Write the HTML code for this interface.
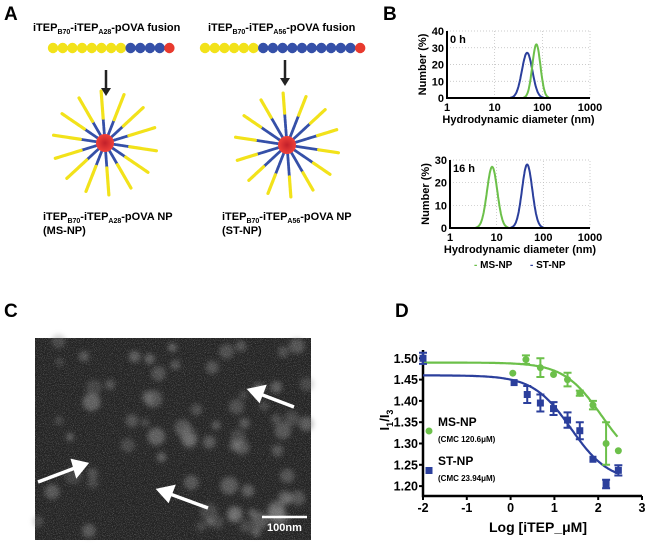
<!DOCTYPE html>
<html><head><meta charset="utf-8"><style>
body{margin:0;background:#fff;width:648px;height:544px;overflow:hidden;font-family:"Liberation Sans",Arial,sans-serif}
svg text{font-family:"Liberation Sans",Arial,sans-serif;font-weight:bold}
</style></head><body>
<svg id="fig" width="648" height="544" viewBox="0 0 648 544" xmlns="http://www.w3.org/2000/svg">
<defs>
<filter id="noise" x="0" y="0" width="100%" height="100%" color-interpolation-filters="sRGB"><feTurbulence type="fractalNoise" baseFrequency="1.1" numOctaves="2" seed="3"/><feColorMatrix type="matrix" values="0 0 0 0 0.75 0 0 0 0 0.75 0 0 0 0 0.75 0 0 0 2.6 -1.2"/></filter>
<filter id="blur"><feGaussianBlur stdDeviation="2.5"/></filter>
<radialGradient id="core"><stop offset="0" stop-color="#c2202a"/><stop offset="1" stop-color="#f0413a"/></radialGradient>
</defs>
<text x="4" y="20" font-size="19">A</text>
<text x="383" y="20" font-size="19">B</text>
<text x="4" y="317" font-size="19">C</text>
<text x="395" y="317" font-size="19">D</text>

<g id="panelA">
<text x="33" y="31" font-size="11">iTEP<tspan font-size="7" dy="3">B70</tspan><tspan dy="-3">-iTEP</tspan><tspan font-size="7" dy="3">A28</tspan><tspan dy="-3">-pOVA fusion</tspan></text>
<text x="208" y="31" font-size="11">iTEP<tspan font-size="7" dy="3">B70</tspan><tspan dy="-3">-iTEP</tspan><tspan font-size="7" dy="3">A56</tspan><tspan dy="-3">-pOVA fusion</tspan></text>
<g id="beads"></g>
<g id="stars"></g>
<line x1="106" y1="70" x2="106" y2="90" stroke="#222" stroke-width="2.5"/><path d="M101,88 L111,88 L106,96 Z" fill="#222"/>
<line x1="285" y1="60" x2="285" y2="80" stroke="#222" stroke-width="2.5"/><path d="M280,78 L290,78 L285,86 Z" fill="#222"/>
<text x="43" y="220" font-size="11">iTEP<tspan font-size="7" dy="3">B70</tspan><tspan dy="-3">-iTEP</tspan><tspan font-size="7" dy="3">A28</tspan><tspan dy="-3">-pOVA NP</tspan></text>
<text x="43" y="234" font-size="11">(MS-NP)</text>
<text x="222" y="220" font-size="11">iTEP<tspan font-size="7" dy="3">B70</tspan><tspan dy="-3">-iTEP</tspan><tspan font-size="7" dy="3">A56</tspan><tspan dy="-3">-pOVA NP</tspan></text>
<text x="222" y="234" font-size="11">(ST-NP)</text>
</g>

<g>
<rect x="35" y="338" width="276" height="202" fill="#222"/>
<g id="blobs" filter="url(#blur)"></g>
<rect x="35" y="338" width="276" height="202" filter="url(#noise)" opacity="0.4"/>
<g fill="#fff" stroke="#fff" stroke-width="3.5">
<line x1="294" y1="407" x2="260" y2="394"/><path d="M250,390 L264,387 L259,400 Z"/>
<line x1="38" y1="482" x2="75" y2="468"/><path d="M86,464 L73,461 L77,475 Z"/>
<line x1="208" y1="508" x2="170" y2="494"/><path d="M159,490 L173,487 L168,500 Z"/>
</g>
<line x1="262" y1="517" x2="307" y2="517" stroke="#fff" stroke-width="2.5"/>
<text x="267" y="531" font-size="11" fill="#fff">100nm</text>
</g>

<g id="panelB"></g>
<g id="panelD"></g>
</svg>
<script>
// ---------- Panel B data ----------
const bDecades = [1, 10, 100, 1000];
const bTopYTicks = [0, 10, 20, 30, 40];
const bBotYTicks = [0, 10, 20, 30];
const b0hST = {peak: 48, height: 27, sigma: 0.11};
const b0hMS = {peak: 75, height: 32, sigma: 0.085};
const b16hMS = {peak: 8, height: 27, sigma: 0.11};
const b16hST = {peak: 45, height: 28, sigma: 0.11};
// ---------- Panel D data ----------
const dXTicks = [-2, -1, 0, 1, 2, 3];
const dYTicks = [1.20, 1.25, 1.30, 1.35, 1.40, 1.45, 1.50];
const msX = [0.05, 0.35, 0.68, 0.98, 1.30, 1.58, 1.88, 2.18, 2.46];
const msY = [1.465, 1.497, 1.478, 1.462, 1.450, 1.418, 1.390, 1.300, 1.283];
const msErr = [0, 0.010, 0.022, 0, 0.016, 0.006, 0.010, 0.050, 0];
const stX = [-2, 0.08, 0.38, 0.68, 0.98, 1.30, 1.58, 1.88, 2.18, 2.46];
const stY = [1.500, 1.443, 1.415, 1.395, 1.382, 1.355, 1.330, 1.263, 1.205, 1.237];
const stErr = [0.013, 0, 0.020, 0.020, 0.015, 0.018, 0.020, 0, 0.010, 0.012];
const msFit = {top: 1.49, bottom: 1.24, logEC50: 2.08, hill: 1};
const stFit = {top: 1.46, bottom: 1.21, logEC50: 1.38, hill: 1};

const NS = "http://www.w3.org/2000/svg";
function mk(parent, tag, attrs, text) {
  const e = document.createElementNS(NS, tag);
  for (const k in attrs) e.setAttribute(k, attrs[k]);
  if (text !== undefined) e.textContent = text;
  parent.appendChild(e);
  return e;
}
const GREEN = "#6cc04a", BLUE = "#2b3f9c";

const beads = document.getElementById('beads');
function beadRow(x0, nY, nB, y) {
  const cols = [];
  for (let i = 0; i < nY; i++) cols.push('#f2e21a');
  for (let i = 0; i < nB; i++) cols.push('#3550a8');
  cols.push('#e83a2e');
  cols.forEach((c, i) => {
    const b = mk(beads, 'circle', {cx: x0 + i * 9.7, cy: y, r: 5.2, fill: c});
    
    
  });
}
beadRow(53, 8, 4, 48);
beadRow(205, 6, 10, 48);
const stars = document.getElementById('stars');
function star(cx, cy, blueLen) {
  const g = mk(stars, 'g', {});
  
  
  for (let i = 0; i < 14; i++) {
    const a = i / 14 * Math.PI * 2 + 0.15;
    const c = Math.cos(a), s = Math.sin(a);
    mk(g, 'line', {x1: cx + c * 7, y1: cy + s * 7, x2: cx + c * blueLen, y2: cy + s * blueLen, stroke: '#3550a8', 'stroke-width': 2.8, 'stroke-linecap': 'round', 'stroke-dasharray': '4 1'});
    mk(g, 'line', {x1: cx + c * blueLen, y1: cy + s * blueLen, x2: cx + c * 52, y2: cy + s * 52, stroke: '#f2e21a', 'stroke-width': 3.2, 'stroke-linecap': 'round', 'stroke-dasharray': '5 1'});
  }
  mk(g, 'circle', {cx: cx, cy: cy, r: 9, fill: 'url(#core)'});
}
star(105, 143, 25);
star(287, 145, 32);

const blobs = document.getElementById('blobs');
let seed = 7;
function rnd() { seed = (seed * 16807) % 2147483647; return seed / 2147483647; }
for (let i = 0; i < 75; i++) {
  const b = mk(blobs, 'circle', {cx: 38 + rnd() * 270, cy: 341 + rnd() * 196, r: 4 + rnd() * 5, fill: '#8a8a8a', opacity: 0.25 + rnd() * 0.3});
  
  
}

const pb = document.getElementById('panelB');
function dls(opts, seriesList, yTicks, label) {
  const {x0, x1, y0, yTop, ymax} = opts;
  const g = mk(pb, 'g', {});
  
  
  const sx = v => x0 + Math.log10(v) / 3 * (x1 - x0);
  const sy = v => y0 - v / ymax * (y0 - yTop);
  yTicks.forEach(t => {
    if (t > 0) mk(g, 'line', {x1: x0, x2: x1, y1: sy(t), y2: sy(t), stroke: '#bbb', 'stroke-width': 0.7, 'stroke-dasharray': '1 2'});
    const tl = mk(g, 'text', {x: x0 - 3, y: sy(t) + 4, 'font-size': 11, 'text-anchor': 'end'}, t);
    
    
  });
  bDecades.forEach(d => {
    if (d > 1) mk(g, 'line', {x1: sx(d), x2: sx(d), y1: y0, y2: yTop, stroke: '#bbb', 'stroke-width': 0.7, 'stroke-dasharray': '1 2'});
    const tl = mk(g, 'text', {x: sx(d), y: y0 + 13, 'font-size': 11, 'text-anchor': 'middle'}, d);
    
    
  });
  seriesList.forEach(([s, col, nm]) => {
    let d = '';
    for (let lx = Math.log10(s.peak) - 3.2 * s.sigma; lx <= Math.log10(s.peak) + 3.2 * s.sigma; lx += 0.01) {
      const v = s.height * Math.exp(-Math.pow(lx - Math.log10(s.peak), 2) / (2 * s.sigma * s.sigma));
      d += (d ? 'L' : 'M') + sx(Math.pow(10, lx)).toFixed(1) + ',' + sy(v).toFixed(1);
    }
    const p = mk(g, 'path', {d: d, fill: 'none', stroke: col, 'stroke-width': 2});
    
    
  });
  mk(g, 'path', {d: `M${x0},${yTop}V${y0}H${x1}`, fill: 'none', stroke: '#000', 'stroke-width': 2});
  const lt = mk(g, 'text', {x: x0 + 3, y: yTop + 12, 'font-size': 11}, label);
  
  
  const xt = mk(g, 'text', {x: (x0 + x1) / 2, y: y0 + 25, 'font-size': 11, 'text-anchor': 'middle'}, 'Hydrodynamic diameter (nm)');
  
  
  const yt = mk(g, 'text', {x: 0, y: 0, 'font-size': 11, 'text-anchor': 'middle', transform: `translate(${x0 - 21},${(y0 + yTop) / 2}) rotate(-90)`}, 'Number (%)');
  
  
}
dls({x0: 447, x1: 590, y0: 98, yTop: 31, ymax: 40}, [[b0hST, BLUE, 'st-np-curve-0h'], [b0hMS, GREEN, 'ms-np-curve-0h']], bTopYTicks, '0 h');
dls({x0: 450, x1: 590, y0: 228, yTop: 160, ymax: 30}, [[b16hMS, GREEN, 'ms-np-curve-16h'], [b16hST, BLUE, 'st-np-curve-16h']], bBotYTicks, '16 h');
const lg1 = mk(pb, 'text', {x: 474, y: 268, 'font-size': 10}, '');


mk(lg1, 'tspan', {fill: GREEN}, '- ');
mk(lg1, 'tspan', {}, 'MS-NP');
const lg2 = mk(pb, 'text', {x: 530, y: 268, 'font-size': 10}, '');


mk(lg2, 'tspan', {fill: BLUE}, '- ');
mk(lg2, 'tspan', {}, 'ST-NP');

const pd = document.getElementById('panelD');
const X0 = 423, XS = 43.8, Y0 = 358.3, YS = 21.3 / 0.05;
const dx = v => X0 + (v + 2) * XS;
const dy = v => Y0 + (1.50 - v) * YS;
mk(pd, 'path', {d: `M${X0},350V496H${dx(3)}`, fill: 'none', stroke: '#000', 'stroke-width': 2.5});
dYTicks.forEach(t => {
  mk(pd, 'line', {x1: X0 - 4, x2: X0, y1: dy(t), y2: dy(t), stroke: '#000', 'stroke-width': 2});
  const tl = mk(pd, 'text', {x: X0 - 5, y: dy(t) + 4.5, 'font-size': 12.5, 'text-anchor': 'end'}, t.toFixed(2));
  
  
});
dXTicks.forEach(t => {
  mk(pd, 'line', {x1: dx(t), x2: dx(t), y1: 496, y2: 500, stroke: '#000', 'stroke-width': 2});
  const tl = mk(pd, 'text', {x: dx(t), y: 512, 'font-size': 12.5, 'text-anchor': 'middle'}, t);
  
  
});
const dxt = mk(pd, 'text', {x: 538, y: 532, 'font-size': 14, 'text-anchor': 'middle'}, 'Log [iTEP_μM]');


const dyt = mk(pd, 'text', {x: 0, y: 0, 'font-size': 13, 'text-anchor': 'middle', transform: 'translate(389,420) rotate(-90)'}, '');


mk(dyt, 'tspan', {}, 'I');
mk(dyt, 'tspan', {'font-size': 9, dy: 4}, '1');
mk(dyt, 'tspan', {dy: -4}, '/I');
mk(dyt, 'tspan', {'font-size': 9, dy: 4}, '3');
function fitCurve(f, col, nm) {
  let d = '';
  for (let x = -2; x <= 2.46; x += 0.02) {
    const y = f.bottom + (f.top - f.bottom) / (1 + Math.pow(10, (x - f.logEC50) * f.hill));
    d += (d ? 'L' : 'M') + dx(x).toFixed(1) + ',' + dy(y).toFixed(1);
  }
  const p = mk(pd, 'path', {d: d, fill: 'none', stroke: col, 'stroke-width': 2.2});
  
  
}
fitCurve(msFit, GREEN, 'ms-np-fit-curve');
fitCurve(stFit, BLUE, 'st-np-fit-curve');
function points(xs, ys, es, col, shape, nm) {
  xs.forEach((x, i) => {
    const g = mk(pd, 'g', {});
    
    
    const px = dx(x), py = dy(ys[i]);
    if (es[i] > 0) {
      const a = dy(ys[i] + es[i]), b = dy(ys[i] - es[i]);
      mk(g, 'path', {d: `M${px},${a}V${b}M${px - 4},${a}H${px + 4}M${px - 4},${b}H${px + 4}`, stroke: col, 'stroke-width': 2, fill: 'none'});
    }
    if (shape === 'c') mk(g, 'circle', {cx: px, cy: py, r: 3.5, fill: col});
    else mk(g, 'rect', {x: px - 3.5, y: py - 3.5, width: 7, height: 7, fill: col});
  });
}
points(msX, msY, msErr, GREEN, 'c', 'ms-np');
points(stX, stY, stErr, BLUE, 's', 'st-np');
mk(pd, 'circle', {cx: 429, cy: 431, r: 3.5, fill: GREEN});
const l1 = mk(pd, 'text', {x: 438, y: 426, 'font-size': 12}, 'MS-NP');


mk(pd, 'text', {x: 438, y: 442, 'font-size': 8}, '(CMC 120.6μM)');
mk(pd, 'rect', {x: 425.5, y: 467, width: 7, height: 7, fill: BLUE});
const l2 = mk(pd, 'text', {x: 438, y: 465, 'font-size': 12}, 'ST-NP');


mk(pd, 'text', {x: 438, y: 481, 'font-size': 8}, '(CMC 23.94μM)');
</script>
</body></html>
